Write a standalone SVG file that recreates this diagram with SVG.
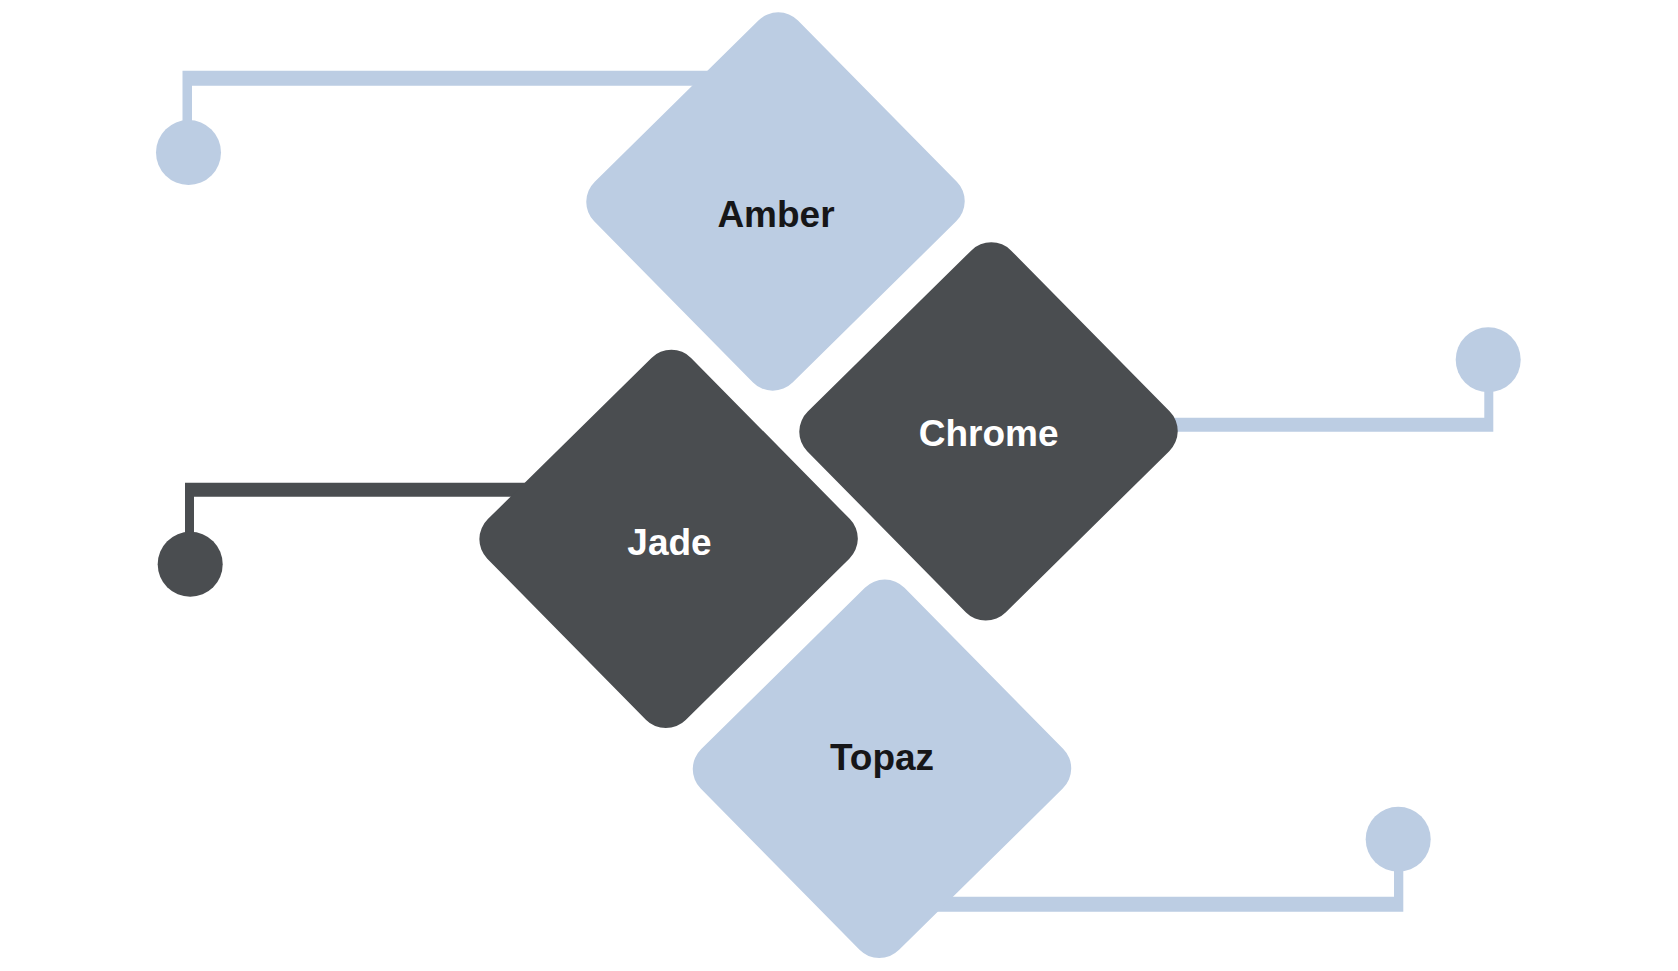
<svg xmlns="http://www.w3.org/2000/svg" width="1678" height="971" viewBox="0 0 1678 971">
  <style>
    .light { fill: #BCCDE3; }
    .dark { fill: #4A4D50; }
    .lbl { font-family: "Liberation Sans", Arial, sans-serif; font-weight: bold; font-size: 37px; text-anchor: middle; }
    .lbl-dark { fill: #161618; }
    .lbl-light { fill: #FFFFFF; }
  </style>
  <defs>
    <rect id="dia" x="-142" y="-142" width="284" height="284" rx="28" ry="28"/>
  </defs>
  <rect width="1678" height="971" fill="#FFFFFF"/>
  <g id="connectors">
    <path class="light" d="M182.5,70.7 H720 V85.7 H192 V152 H182.5 Z"/>
    <circle class="light" cx="188.5" cy="152.5" r="32.5"/>
    <path class="light" d="M1100,417.7 H1484.3 V360 H1493.3 V431.7 H1100 Z"/>
    <circle class="light" cx="1488.2" cy="359.8" r="32.5"/>
    <path class="dark" d="M185,482.7 H650 V496.7 H194 V564 H185 Z"/>
    <circle class="dark" cx="190.2" cy="564.2" r="32.5"/>
    <path class="light" d="M880,896.7 H1394 V839 H1403.3 V911.7 H880 Z"/>
    <circle class="light" cx="1398.2" cy="839.2" r="32.5"/>
  </g>
  <g id="amber">
    <use href="#dia" class="light" transform="translate(775.5,201.5) skewX(-0.85) rotate(45)"/>
    <text class="lbl lbl-dark" x="776" y="226.5">Amber</text>
  </g>
  <g id="chrome">
    <use href="#dia" class="dark" transform="translate(988.5,431.4) skewX(-0.85) rotate(45)"/>
    <text class="lbl lbl-light" x="988.7" y="445.5">Chrome</text>
  </g>
  <g id="jade">
    <use href="#dia" class="dark" transform="translate(668.6,538.9) skewX(-0.85) rotate(45)"/>
    <text class="lbl lbl-light" x="669.5" y="554.5">Jade</text>
  </g>
  <g id="topaz">
    <use href="#dia" class="light" transform="translate(882,768.8) skewX(-0.85) rotate(45)"/>
    <text class="lbl lbl-dark" x="882" y="769.5">Topaz</text>
  </g>
</svg>
